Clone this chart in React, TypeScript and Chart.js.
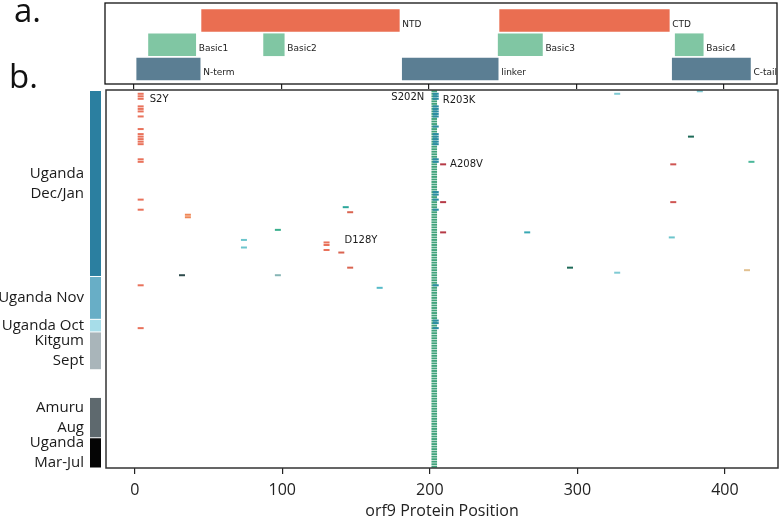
import React, { useEffect, useRef } from 'react';
import { Chart, registerables } from 'chart.js';

Chart.register(...registerables);

// ---------- panel a: orf9 (N protein) domain map ----------
const featureNames = ['NTD', 'CTD', 'Basic1', 'Basic2', 'Basic3', 'Basic4', 'N-term', 'linker', 'C-tail'];
const featureStarts = [46, 248, 10, 88, 247, 367, 2, 182, 365];
const featureEnds = [180, 363, 42, 102, 277, 386, 45, 247, 418];
// track: 2 = domains, 1 = basic regions, 0 = structural segments
const featureTracks = [2, 2, 1, 1, 1, 1, 0, 0, 0];

// ---------- panel b: sample groups (top to bottom) ----------
const groupLabels = [['Uganda', 'Dec/Jan'], ['Uganda Nov'], ['Uganda Oct'], ['Kitgum', 'Sept'], [], ['Amuru', 'Aug'], ['Uganda', 'Mar-Jul']];
const groupSizes = [74, 17, 5, 15, 11, 16, 12];

const xTicks = [0, 100, 200, 300, 400];
const xTitle = 'orf9 Protein Position';

// mutation present in every sample
const sharedMutationPos = 203;

// other mutations: protein position and sample rows carrying it
const mutationPositions = [4, 204, 36, 32, 74, 97, 97, 130, 140, 143, 146, 166, 209, 266, 295, 327, 364, 365, 377, 383, 415, 418];
const mutationRows = [
  [1, 2, 3, 6, 7, 8, 10, 15, 17, 18, 19, 20, 21, 27, 28, 43, 47, 77, 94],
  [1, 2, 3, 6, 7, 8, 9, 10, 14, 17, 18, 19, 20, 21, 27, 28, 40, 41, 43, 47, 77, 91, 92, 94],
  [49, 50],
  [73],
  [59, 62],
  [55],
  [73],
  [60, 61, 63],
  [64],
  [46],
  [48, 70],
  [78],
  [29, 44, 56],
  [56],
  [70],
  [1, 72],
  [58],
  [29, 44],
  [18],
  [0],
  [71],
  [28],
];

// annotations
const annotationTexts = ['S2Y', 'S202N', 'R203K', 'A208V', 'D128Y'];
const annotationPos = [4, 203, 204, 209, 130];
const annotationRows = [3.1, 2.4, 3.5, 28.9, 59.2];

// ---------- styles ----------
const trackColors = ['#5B7E93', '#80C6A3', '#EA6E51'];
const groupColors = ['#2B7FA0', '#68AEC6', '#A7DDE9', '#A9B5BA', 'rgba(0,0,0,0)', '#5E696E', '#050505'];
const mutationColors = [
  '#E9725B', '#2A8CA3', '#EF8756', '#2E4B4C', '#6CC5CC', '#3AAF8D', '#86B5B5', '#E9725B',
  '#DA6450', '#2CA79B', '#DA6450', '#55BAC8', '#B63A46', '#38A8B3', '#1E6A58', '#7FCAD3',
  '#6CC5CC', '#CF5552', '#1E6A58', '#7FCAD3', '#E2C191', '#4BB79A',
];
const sharedColor = '#40A37B';
const annotationDx = [9, -10, 7, 7, 18];
const annotationAlign: CanvasTextAlign[] = ['left', 'right', 'left', 'left', 'left'];

const X_MIN = -19.5;
const X_MAX = 436;
const MAIN_TOP = 86;

export default function App() {
  const topRef = useRef<HTMLCanvasElement>(null);
  const mainRef = useRef<HTMLCanvasElement>(null);

  useEffect(() => {
    document.body.style.margin = '0';
    const nSamples = groupSizes.reduce((a, b) => a + b, 0);

    // ---------- top chart ----------
    const topDecor = {
      id: 'topDecor',
      afterDraw(chart: any) {
        const { ctx, chartArea } = chart;
        ctx.save();
        ctx.strokeStyle = '#111';
        ctx.lineWidth = 1.3;
        ctx.strokeRect(chartArea.left, chartArea.top, chartArea.right - chartArea.left, chartArea.bottom - chartArea.top);
        ctx.fillStyle = '#222';
        ctx.font = '9px "DejaVu Sans"';
        ctx.textBaseline = 'middle';
        ctx.textAlign = 'left';
        const xs = chart.scales.x;
        const ys = chart.scales.y;
        featureNames.forEach((name, i) => {
          const px = xs.getPixelForValue(featureEnds[i]) + 3;
          const py = ys.getPixelForValue(featureTracks[i]) + 4;
          ctx.fillText(name, px, py);
        });
        ctx.font = '33px "Open Sans"';
        ctx.textBaseline = 'alphabetic';
        ctx.fillStyle = '#111';
        ctx.fillText('a.', 14, 22);
        ctx.fillText('b.', 9, 88);
        ctx.restore();
      },
    };

    const topChart = new Chart(topRef.current!, {
      type: 'bar',
      data: {
        datasets: featureNames.map((name, i) => ({
          label: name,
          data: [{ x: [featureStarts[i], featureEnds[i]], y: featureTracks[i] }] as any,
          backgroundColor: trackColors[featureTracks[i]],
          borderWidth: 0,
          barThickness: 22,
          grouped: false,
        })),
      },
      options: {
        responsive: false,
        animation: false,
        indexAxis: 'y',
        layout: { autoPadding: false, padding: { left: 105, right: 3, top: 3, bottom: 0 } },
        plugins: { legend: { display: false }, tooltip: { enabled: false } },
        scales: {
          x: {
            type: 'linear',
            min: X_MIN,
            max: X_MAX,
            afterBuildTicks: (axis: any) => { axis.ticks = xTicks.map((v) => ({ value: v })); },
            ticks: { display: false },
            grid: { drawOnChartArea: false, drawTicks: true, tickLength: 5, color: '#222', lineWidth: 1.2 },
            border: { display: false },
          },
          y: {
            type: 'linear',
            min: -0.619,
            max: 2.722,
            offset: false,
            display: false,
            ticks: { stepSize: 1 },
          },
        },
      } as any,
      plugins: [topDecor],
    });

    // ---------- main chart ----------
    const mainDecor = {
      id: 'mainDecor',
      afterDraw(chart: any) {
        const { ctx, chartArea } = chart;
        const xs = chart.scales.x;
        const ys = chart.scales.y;
        ctx.save();
        // frame
        ctx.strokeStyle = '#333';
        ctx.lineWidth = 1.5;
        ctx.strokeRect(chartArea.left, chartArea.top, chartArea.right - chartArea.left, chartArea.bottom - chartArea.top);
        // group bar and labels
        let start = 0;
        ctx.font = '15px "Open Sans"';
        ctx.textAlign = 'right';
        ctx.textBaseline = 'middle';
        groupSizes.forEach((size, g) => {
          const yTop = ys.getPixelForValue(start - 0.5);
          const yBot = ys.getPixelForValue(start + size - 0.5);
          ctx.fillStyle = groupColors[g];
          ctx.fillRect(90, yTop + (g === 0 ? 1 : 0.5), 11, yBot - yTop - (g === 0 ? 1.5 : 1));
          const lines = groupLabels[g];
          const cy = (yTop + yBot) / 2;
          ctx.fillStyle = '#1a1a1a';
          lines.forEach((line, k) => {
            ctx.fillText(line, 84, cy + (k - (lines.length - 1) / 2) * 20);
          });
          start += size;
        });
        // annotations
        ctx.font = '10px "DejaVu Sans"';
        ctx.fillStyle = '#1a1a1a';
        annotationTexts.forEach((t, i) => {
          ctx.textAlign = annotationAlign[i];
          ctx.fillText(t, xs.getPixelForValue(annotationPos[i]) + annotationDx[i], ys.getPixelForValue(annotationRows[i]));
        });
        // axis title
        ctx.font = '16px "Open Sans"';
        ctx.fillStyle = '#222';
        ctx.textAlign = 'center';
        ctx.textBaseline = 'middle';
        ctx.fillText(xTitle, (chartArea.left + chartArea.right) / 2, 511 - MAIN_TOP);
        ctx.restore();
      },
    };

    const sampleRows = Array.from({ length: nSamples }, (_, i) => i);
    const datasets: any[] = mutationPositions.map((pos, i) => ({
      label: 'm' + pos,
      data: mutationRows[i].map((r) => ({ x: pos, y: r })),
      pointStyle: 'line',
      pointRadius: 3,
      pointBorderWidth: 2,
      pointBorderColor: mutationColors[i],
      borderColor: mutationColors[i],
      backgroundColor: mutationColors[i],
      showLine: false,
    }));
    datasets.push({
      label: 'shared',
      data: sampleRows.map((r) => ({ x: sharedMutationPos, y: r })),
      pointStyle: 'line',
      pointRadius: 2.8,
      pointBorderWidth: 1.9,
      pointBorderColor: sharedColor,
      borderColor: sharedColor,
      backgroundColor: sharedColor,
      showLine: false,
    });

    const mainChart = new Chart(mainRef.current!, {
      type: 'scatter',
      data: { datasets },
      options: {
        responsive: false,
        animation: false,
        layout: { autoPadding: false, padding: { left: 106, right: 2, top: 4, bottom: 14 } },
        plugins: { legend: { display: false }, tooltip: { enabled: false } },
        scales: {
          x: {
            type: 'linear',
            min: X_MIN,
            max: X_MAX,
            afterBuildTicks: (axis: any) => { axis.ticks = xTicks.map((v) => ({ value: v })); },
            ticks: { font: { family: '"Open Sans"', size: 16 }, color: '#222', padding: 6.4, maxRotation: 0 },
            grid: { drawOnChartArea: false, drawTicks: true, tickLength: 6, color: '#222', lineWidth: 1.2 },
            border: { display: false },
          },
          y: {
            type: 'linear',
            min: -0.5,
            max: nSamples - 0.5,
            reverse: true,
            display: false,
          },
        },
      } as any,
      plugins: [mainDecor],
    });

    return () => {
      topChart.destroy();
      mainChart.destroy();
    };
  }, []);

  return (
    <div style={{ position: 'absolute', left: 0, top: 0, width: 780, height: 520, background: '#fff' }}>
      <canvas ref={topRef} width={780} height={89} style={{ position: 'absolute', left: 0, top: 0, width: 780, height: 89 }} />
      <canvas ref={mainRef} width={780} height={434} style={{ position: 'absolute', left: 0, top: MAIN_TOP, width: 780, height: 434 }} />
    </div>
  );
}
